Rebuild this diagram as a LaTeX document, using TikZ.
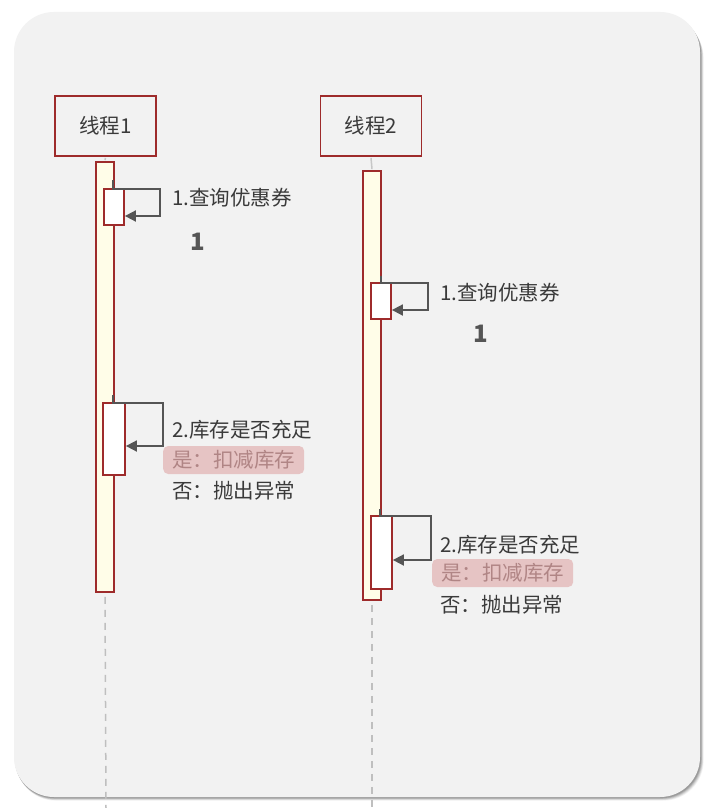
\documentclass[tikz,border=0pt]{standalone}
\usepackage{fontspec}
\setmainfont{Noto Sans CJK SC}
\usetikzlibrary{arrows.meta,calc}
\definecolor{bgc}{HTML}{F2F2F2}
\definecolor{redline}{HTML}{9E2B2B}
\definecolor{barfill}{HTML}{FFFDE8}
\definecolor{txt}{HTML}{3A3A3A}
\definecolor{msgc}{HTML}{555555}
\definecolor{hlfill}{HTML}{E6C4C4}
\definecolor{hltxt}{HTML}{B08585}
\begin{document}
\begin{tikzpicture}[x=1pt,y=-1pt,
  threadbox/.style={draw=redline,line width=1.8pt,fill=bgc,minimum width=101pt,minimum height=60pt,inner sep=0pt,text=txt,font=\fontsize{20.5}{24}\selectfont},
  lifebar/.style={draw=redline,line width=1.8pt,fill=barfill,minimum width=18pt,inner sep=0pt},
  actbox/.style={draw=redline,line width=1.8pt,fill=white,inner sep=0pt},
  msg/.style={draw=msgc,line width=1.8pt,-{Triangle[length=11pt,width=11pt]}},
  lbl/.style={anchor=west,text=txt,inner sep=0pt,font=\fontsize{20.5}{24}\selectfont},
  hl/.style={anchor=west,fill=hlfill,rounded corners=5pt,text=hltxt,inner xsep=9pt,inner ysep=4pt,minimum height=28pt,font=\fontsize{20.5}{24}\selectfont},
  num/.style={text=msgc,inner sep=0pt,font=\fontsize{24}{28}\selectfont\bfseries},
  dashline/.style={draw=black!25,line width=1.5pt,dash pattern=on 7pt off 6pt},
  stubline/.style={draw=black!22,line width=1.5pt}
]
\useasboundingbox (0,0) rectangle (712,808);
\fill[white] (0,0) rectangle (712,808);
% shadow
\foreach \o/\op in {6/0.05,5/0.07,4/0.09,3/0.11,2/0.13}{
  \fill[black,opacity=\op,rounded corners=40pt] (14+0.3*\o,12+\o) rectangle (700+0.6*\o,797+0.6*\o);
}
\fill[bgc,rounded corners=40pt] (14,12) rectangle (700,797);

\coordinate (end1) at (106,808);
\coordinate (end2) at (372,808);
\node[threadbox] (t1) at (105.5,126) {线程1};
\node[threadbox] (t2) at (371,126) {线程2};

% activation bars
\node[lifebar,minimum height=430pt] (b1) at (105,377) {};
\node[lifebar,minimum height=429pt] (b2) at (372,385.5) {};

% lifelines
\draw[stubline] ([yshift=-1pt]t1.south) -- ([yshift=1pt]b1.north);
\draw[stubline] ([yshift=-1pt]t2.south) -- ([yshift=1pt]b2.north);
\draw[dashline] ([yshift=-4pt]b1.south) -- (end1);
\draw[dashline] ([yshift=-4pt]b2.south) -- (end2);

% thread 1
\node[actbox,minimum width=20pt,minimum height=36pt] (a11) at (114,207) {};
\node[actbox,minimum width=22pt,minimum height=72pt] (a12) at (114,439) {};
% thread 2
\node[actbox,minimum width=20pt,minimum height=36pt] (a21) at (381,301) {};
\node[actbox,minimum width=21pt,minimum height=73pt] (a22) at (381.5,552.5) {};

% self messages
\coordinate (s11) at (113,180);
\draw[msg] (s11) -- (113,189) -- (160,189) -- (160,216) -- ($(a11.east)+(0,9)$);
\coordinate (s12) at (113,395);
\draw[msg] (s12) -- (113,403) -- (163,403) -- (163,446) -- ($(a12.east)+(0,7)$);
\coordinate (s21) at (381,276);
\draw[msg] (s21) -- (381,283) -- (428,283) -- (428,310) -- ($(a21.east)+(0,9)$);
\coordinate (s22) at (380,509);
\draw[msg] (s22) -- (380,516) -- (431,516) -- (431,560) -- ($(a22.east)+(0,7.5)$);

% labels thread 1
\node[lbl] (l11) at (172,198) {1.查询优惠券};
\node[num] (n1) at (198,242) {1};
\node[lbl] (l12) at (172,430) {2.库存是否充足};
\node[hl] (h12) at (163,460) {是：扣减库存};
\node[lbl] (m12) at (172,491) {否：抛出异常};

% labels thread 2
\node[lbl] (l21) at (440,293) {1.查询优惠券};
\node[num] (n2) at (481,334) {1};
\node[lbl] (l22) at (440,545) {2.库存是否充足};
\node[hl] (h22) at (432,573) {是：扣减库存};
\node[lbl] (m22) at (440,605) {否：抛出异常};
\end{tikzpicture}
\end{document}
